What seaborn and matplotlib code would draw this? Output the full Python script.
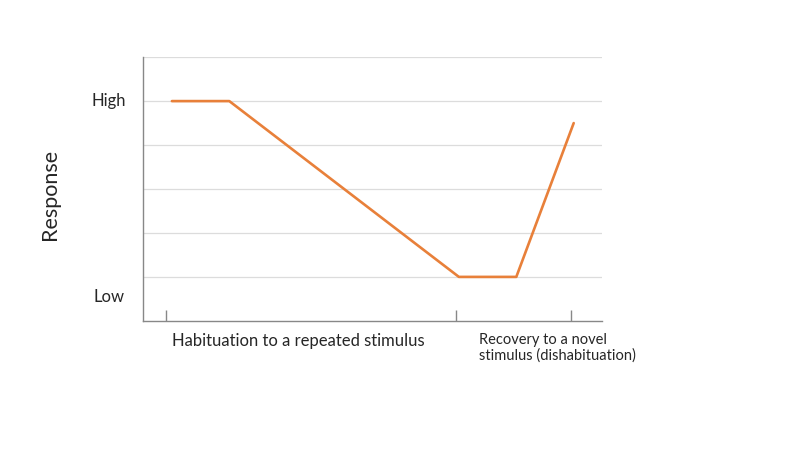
import seaborn as sns
import matplotlib.pyplot as plt
import pandas as pd

# line points (x in stage units, y in response units)
stage = [0.5, 1.5, 5.5, 6.5, 7.5]
response = [5, 5, 1, 1, 4.5]

# tick marks on the bottom axis
tick_pos = [0.4, 5.45, 7.45]

y_labels = {"High": 5, "Low": 0.55}
x_label_1 = "Habituation to a repeated stimulus"
x_label_2 = "Recovery to a novel\nstimulus (dishabituation)"

df = pd.DataFrame({"stage": stage, "response": response})

sns.set_style("white")
plt.rcParams["font.family"] = ["Lato", "DejaVu Sans"]

fig = plt.figure(figsize=(8, 4.5), dpi=100)
ax = fig.add_axes([0.179, 0.287, 0.574, 0.586])

sns.lineplot(x="stage", y="response", data=df, color="#E8803A", linewidth=1.9, ax=ax)

ax.set_xlim(0, 8)
ax.set_ylim(0, 6)
ax.set_yticks([1, 2, 3, 4, 5, 6])
ax.yaxis.grid(True, color="#dcdcdc", linewidth=0.9)
ax.set_axisbelow(True)
ax.tick_params(axis="y", length=0, labelleft=False)
ax.set_xticks(tick_pos)
ax.tick_params(axis="x", bottom=True, direction="in", length=8, width=1.0,
               color="#888888", labelbottom=False)

for s in ["top", "right"]:
    ax.spines[s].set_visible(False)
for s in ["left", "bottom"]:
    ax.spines[s].set_color("#888888")
    ax.spines[s].set_linewidth(1.0)

ax.set_xlabel("")
ax.set_ylabel("")

# category and level labels
for name, val in y_labels.items():
    ax.text(-0.6, val, name, ha="center", va="center", fontsize=12)
ax.text(2.7, -0.45, x_label_1, ha="center", va="center", fontsize=12)
ax.text(5.85, -0.28, x_label_2, ha="left", va="top", fontsize=10.5, linespacing=1.15)

fig.text(0.0625, 0.567, "Response", rotation=90, ha="center", va="center", fontsize=15.5)

plt.savefig("out.png", dpi=100)
